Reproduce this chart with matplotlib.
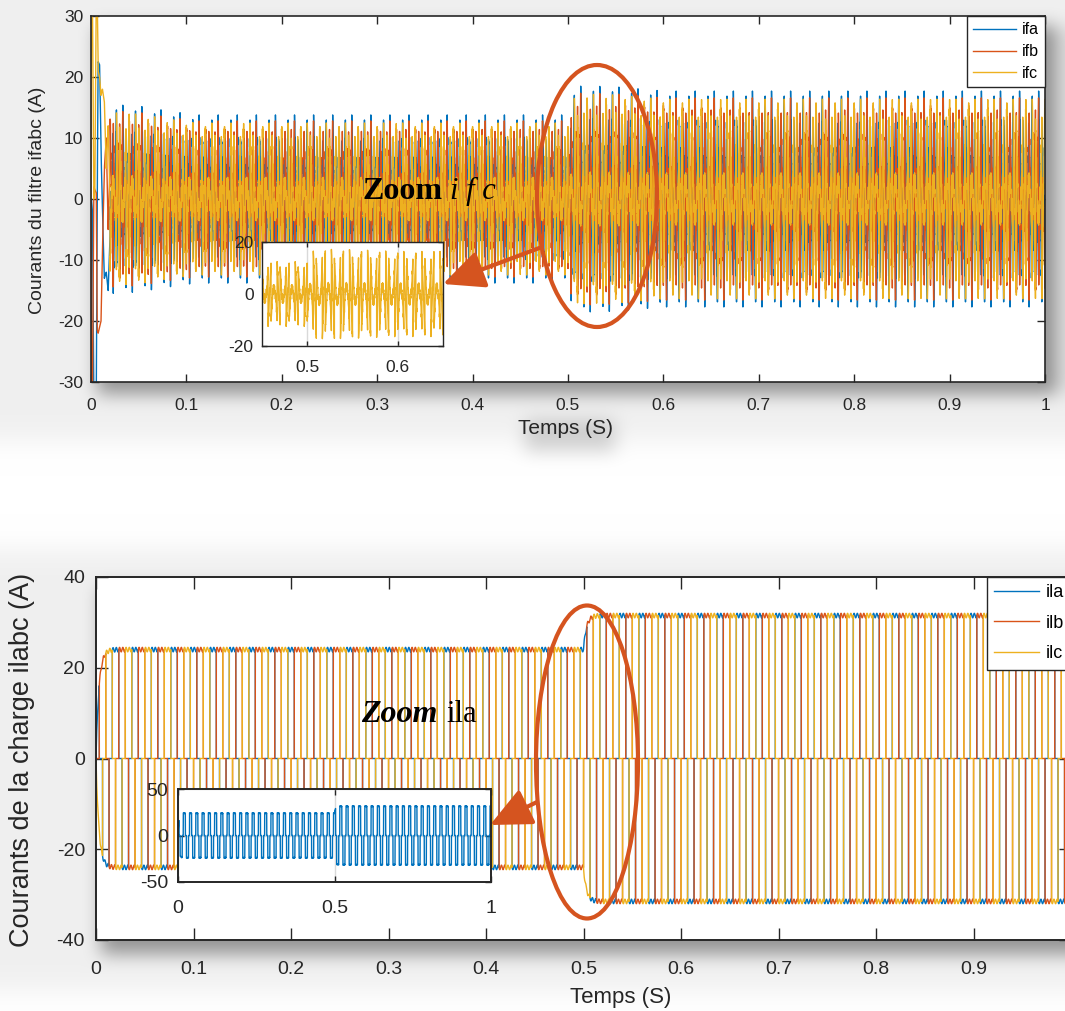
"""
Courants du filtre actif (ifabc) et courants de la charge (ilabc),
deux panneaux façon MATLAB avec zooms incrustés et ombre portée.
"""

import numpy as np
import matplotlib
matplotlib.use("Agg")
import matplotlib.pyplot as plt
from matplotlib.patches import Ellipse, FancyArrowPatch

W, H = 1065, 1011          # figure size in px (dpi 100)

# ── values ───────────────────────────────────────────────────────────────────
F_GRID = 50.0              # Hz
PHASE0 = np.pi / 2         # phase a starts in its positive plateau
T_STEP = 0.5               # load step (s)
LOAD_BEFORE = 24.0         # A, plateau of ila/ilb/ilc before the step
LOAD_AFTER = 31.5          # A, plateau after the step
LOAD_TAU = 0.003           # s, rise time constant of the plateau
LOAD_RIPPLE = 0.5          # A, 300 Hz ripple on the plateaus
RIPPLE_LOAD_HZ = 300.0

# filter current, start-up transient read point by point (ms -> A)
start_ms = [0, 0.5, 1.5, 3.0, 4.0, 5.5, 6.5, 7.5, 9.0, 10.5, 12, 14, 16, 18, 19.9]
ifa_start = [0, 0, -2, -35, -35, -33, 0, 22.5, 22, 8, -2, -13, -12, -15, -6]
ifb_start = [0, -33, -33, 2, 1.5, 1, -21.5, -22, -21, -20, -8, 5, 10, -5, 6]
ifc_start = [0, 33, 33, 0, 1, 33, 33, 21, 20, 17, 18, 16, 5, 12, 0]
T_START_END = 0.02

# gain on the harmonic current, from the height of the spikes
gain_t = [0.02, 0.05, 0.08, 0.11, 0.50, 0.51, 0.55, 0.60, 1.00]
gain_v = [1.08, 1.06, 1.00, 0.95, 0.95, 1.00, 0.99, 0.95, 0.95]

# switching ripple on the filter currents
ripple_amp = [1.0, 0.6]
ripple_hz = [1650.0, 2450.0]

filter_names = ["ifa", "ifb", "ifc"]
load_names = ["ila", "ilb", "ilc"]
COLORS = ["#0072BD", "#D95319", "#EDB120"]
MARK = "#D5541F"

# axes boxes in px (left, top, right, bottom)
BOX_TOP = (91, 16, 1045, 382)
BOX_BOT = (96, 577, 1071, 940)
BOX_INSET_TOP = (262, 242, 443, 346)
BOX_INSET_BOT = (178, 789, 491, 882)


# ── helpers ─────────────────────────────────────────────────────────────────

def fx(x):
    return x / W


def fy(y):
    return 1 - y / H


def add_axes_px(fig, box, **kw):
    l, t, r, b = box
    return fig.add_axes([fx(l), fy(b), (r - l) / W, (b - t) / H], **kw)


def blur(a, r, passes=3):
    k = 2 * r + 1
    for _ in range(passes):
        for ax in (0, 1):
            pad = [(r, r) if i == ax else (0, 0) for i in range(2)]
            c = np.cumsum(np.pad(a, pad, mode="edge"), axis=ax)
            c = np.insert(c, 0, 0, axis=ax)
            n = a.shape[ax]
            a = (np.take(c, np.arange(k, k + n), axis=ax)
                 - np.take(c, np.arange(0, n), axis=ax)) / k
    return a


def shadow_image():
    dark = np.zeros((H, W))

    def rect(x0, y0, x1, y1, v, r):
        m = np.zeros((H, W))
        m[max(0, y0):min(H, y1), max(0, x0):min(W, x1)] = v
        return blur(m, r)

    dark += rect(97, 26, 1058, 394, 0.36, 8)
    dark += rect(0, 0, W, 440, 0.06, 12)
    dark += rect(525, 420, 615, 452, 0.15, 8)
    dark += rect(101, 588, 1100, 954, 0.36, 8)
    dark += rect(0, 550, W, 990, 0.06, 12)
    g = np.clip(1 - dark, 0, 1)
    return np.dstack([g, g, g])


# ── signals ─────────────────────────────────────────────────────────────────

t = np.arange(0, 1.0 + 1e-5, 2e-5)

amp = np.where(t < T_STEP,
               LOAD_BEFORE * (1 - np.exp(-t / LOAD_TAU)),
               LOAD_BEFORE + (LOAD_AFTER - LOAD_BEFORE)
               * (1 - np.exp(-np.clip(t - T_STEP, 0, None) / LOAD_TAU)))
gain = np.interp(t, gain_t, gain_v)
K1 = 2 * np.sqrt(3) / np.pi

loads, filters = [], []
starts = [ifa_start, ifb_start, ifc_start]
for k in range(3):
    theta = 2 * np.pi * F_GRID * t + PHASE0 - k * 2 * np.pi / 3
    s = np.sin(theta)
    level = np.where(s > 0.5, 1.0, np.where(s < -0.5, -1.0, 0.0))
    il = level * (amp + LOAD_RIPPLE * np.sin(2 * np.pi * RIPPLE_LOAD_HZ * t))
    loads.append(il)

    ih = gain * (il - K1 * amp * s)
    for a_r, f_r in zip(ripple_amp, ripple_hz):
        ih = ih + a_r * np.sin(2 * np.pi * f_r * t + 2.1 * k + f_r / 1000)
    early = t < T_START_END
    ih[early] = np.interp(t[early] * 1000, start_ms, starts[k])
    filters.append(ih)


# ── figure ──────────────────────────────────────────────────────────────────

plt.rcParams["font.family"] = ["Liberation Sans", "DejaVu Sans"]
plt.rcParams["axes.unicode_minus"] = False
fig = plt.figure(figsize=(W / 100, H / 100), dpi=100)
fig.patch.set_facecolor("white")

bg = fig.add_axes([0, 0, 1, 1], zorder=-5)
bg.imshow(shadow_image(), extent=[0, W, H, 0], aspect="auto", interpolation="bilinear")
bg.set_axis_off()

xt = np.round(np.arange(0, 1.01, 0.1), 1)
xtl = ["0"] + [f"{v:g}" for v in xt[1:-1]] + ["1"]


def style_main(ax, size, tick_len, xpad, ypad, lw):
    for sp in ax.spines.values():
        sp.set_linewidth(lw)
        sp.set_color("#262626")
    ax.tick_params(direction="in", top=True, right=True, length=tick_len,
                   width=1.0, color="#262626", labelsize=size, labelcolor="#262626")
    ax.tick_params(axis="x", pad=xpad)
    ax.tick_params(axis="y", pad=ypad)


# top panel: filter currents
ax1 = add_axes_px(fig, BOX_TOP)
for y, c, n in zip(filters, COLORS, filter_names):
    ax1.plot(t, y, color=c, lw=1.0, label=n)
ax1.set_xlim(0, 1)
ax1.set_ylim(-30, 30)
ax1.set_xticks(xt, xtl)
ax1.set_yticks(np.arange(-30, 31, 10))
style_main(ax1, 12.5, 5.8, 11.5, 5.5, 1.2)
ax1.legend(loc="upper right", bbox_to_anchor=(1, 1), borderaxespad=0,
           fontsize=11.5, handlelength=2.7, handletextpad=0.35, labelspacing=0.42,
           fancybox=False, framealpha=1, edgecolor="#262626")
fig.text(fx(566), fy(428), "Temps (S)", ha="center", va="center",
         fontsize=15, color="#262626")
fig.text(fx(38), fy(200), "Courants du filtre ifabc (A)", ha="center", va="center",
         rotation=90, fontsize=14, color="#262626")

# bottom panel: load currents (the x = 1 label falls outside the picture)
ax2 = add_axes_px(fig, BOX_BOT)
for y, c, n in zip(loads, COLORS, load_names):
    ax2.plot(t, y, color=c, lw=1.0, label=n)
ax2.set_xlim(0, 1)
ax2.set_ylim(-40, 40)
ax2.set_xticks(xt, xtl[:-1] + [""])
ax2.set_yticks(np.arange(-40, 41, 20))
style_main(ax2, 14, 8.6, 15, 8, 1.4)
ax2.legend(loc="upper right", bbox_to_anchor=(1, 1), borderaxespad=0,
           fontsize=13, handlelength=2.5, handletextpad=0.35, labelspacing=0.75,
           fancybox=False, framealpha=1, edgecolor="#262626")
fig.text(fx(621), fy(997), "Temps (S)", ha="center", va="center",
         fontsize=16, color="#262626")
fig.text(fx(22), fy(760), "Courants de la charge ilabc (A)", ha="center", va="center",
         rotation=90, fontsize=19.5, color="#262626")

# inset: ifc zoom
ins1 = add_axes_px(fig, BOX_INSET_TOP)
ins1.plot(t, filters[2], color=COLORS[2], lw=1.0)
ins1.set_xlim(0.45, 0.65)
ins1.set_ylim(-20, 20)
ins1.set_xticks([0.5, 0.6], ["0.5", "0.6"])
ins1.set_yticks([-20, 0, 20], ["-20", "0", "20"])
ins1.grid(True, color="#d9d9d9", lw=1.0)
style_main(ins1, 12.5, 3.5, 10, 6, 1.0)

# inset: ila zoom
ins2 = add_axes_px(fig, BOX_INSET_BOT)
ins2.plot(t, loads[0], color=COLORS[0], lw=1.0)
ins2.set_xlim(0, 1)
ins2.set_ylim(-50, 50)
ins2.set_xticks([0, 0.5, 1], ["0", "0.5", "1"])
ins2.set_yticks([-50, 0, 50], ["-50", "0", "50"])
ins2.grid(True, color="#d9d9d9", lw=1.0)
style_main(ins2, 14, 4, 13, 7, 1.4)

# annotations
fig.text(fx(362), fy(199), "Zoom", family="Liberation Serif", weight="bold",
         fontsize=23, va="baseline", ha="left", zorder=10)
fig.text(fx(450), fy(199), "i f c", family="Liberation Serif", style="italic",
         fontsize=22, va="baseline", ha="left", zorder=10)
fig.text(fx(361), fy(722), "Zoom", family="Liberation Serif", weight="bold",
         style="italic", fontsize=23, va="baseline", ha="left", zorder=10)
fig.text(fx(446), fy(722), "ila", family="Liberation Serif",
         fontsize=22, va="baseline", ha="left", zorder=10)

fig.add_artist(Ellipse((fx(597), fy(196)), 120 / W, 262 / H, transform=fig.transFigure,
                       fill=False, ec=MARK, lw=3.0, zorder=10))
fig.add_artist(Ellipse((fx(587), fy(762)), 102 / W, 313 / H, transform=fig.transFigure,
                       fill=False, ec=MARK, lw=3.0, zorder=10))

for (x0, y0), (x1, y1) in [((542, 247), (443, 284)), ((537, 802), (490, 825))]:
    fig.add_artist(FancyArrowPatch((fx(x0), fy(y0)), (fx(x1), fy(y1)),
                                   transform=fig.transFigure,
                                   arrowstyle="-|>,head_length=1.4,head_width=0.65",
                                   mutation_scale=18, color=MARK, lw=3.0,
                                   shrinkA=0, shrinkB=0, zorder=11))

fig.savefig("out.png", dpi=100)
